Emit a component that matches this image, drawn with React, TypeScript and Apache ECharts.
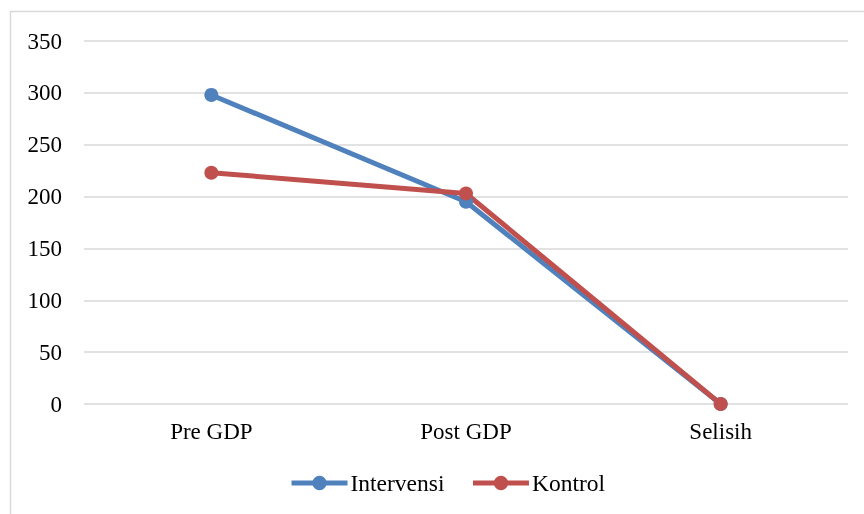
import React, { useEffect, useRef } from "react";
import * as echarts from "echarts";

const categories = ["Pre GDP", "Post GDP", "Selisih"];
const intervensi = [298, 195, 0];
const kontrol = [223, 203, 0];
const seriesNames = ["Intervensi", "Kontrol"];

export default function App() {
  const ref = useRef<HTMLDivElement>(null);
  useEffect(() => {
    if (!ref.current) return;
    const chart = echarts.init(ref.current, undefined, { renderer: "svg" });
    const font = "'Liberation Serif', 'Times New Roman', serif";
    chart.setOption({
      animation: false,
      textStyle: { fontFamily: font },
      graphic: [
        {
          type: "rect",
          shape: { x: 10.5, y: 11.5, width: 900, height: 600 },
          style: { fill: "none", stroke: "#d9d9d9", lineWidth: 1.5 },
          silent: true,
        },
      ],
      grid: { left: 84, right: 16, top: 41, bottom: 110 },
      xAxis: {
        type: "category",
        data: categories,
        boundaryGap: true,
        axisLine: { show: false },
        axisTick: { show: false },
        axisLabel: { color: "#000", fontSize: 23, fontFamily: font, margin: 16 },
      },
      yAxis: {
        type: "value",
        min: 0,
        max: 350,
        interval: 50,
        axisLine: { show: false },
        axisTick: { show: false },
        axisLabel: { color: "#000", fontSize: 23, fontFamily: font, margin: 22 },
        splitLine: { lineStyle: { color: "#d9d9d9", width: 1.5 } },
      },
      legend: {
        bottom: 14,
        left: 284,
        itemWidth: 56,
        itemHeight: 18,
        itemGap: 26,
        lineStyle: { width: 5 },
        textStyle: { color: "#000", fontSize: 23.5, fontFamily: font, padding: [0, 0, 0, -2] },
        data: seriesNames,
      },
      series: [
        {
          name: seriesNames[0],
          type: "line",
          data: intervensi,
          symbol: "circle",
          symbolSize: 14,
          lineStyle: { color: "#4f81bd", width: 5 },
          itemStyle: { color: "#4f81bd" },
        },
        {
          name: seriesNames[1],
          type: "line",
          data: kontrol,
          symbol: "circle",
          symbolSize: 14,
          lineStyle: { color: "#c0504d", width: 5 },
          itemStyle: { color: "#c0504d" },
        },
      ],
    });
    return () => chart.dispose();
  }, []);
  return <div ref={ref} style={{ width: 864, height: 514, position: "fixed", left: 0, top: 0 }} />;
}
